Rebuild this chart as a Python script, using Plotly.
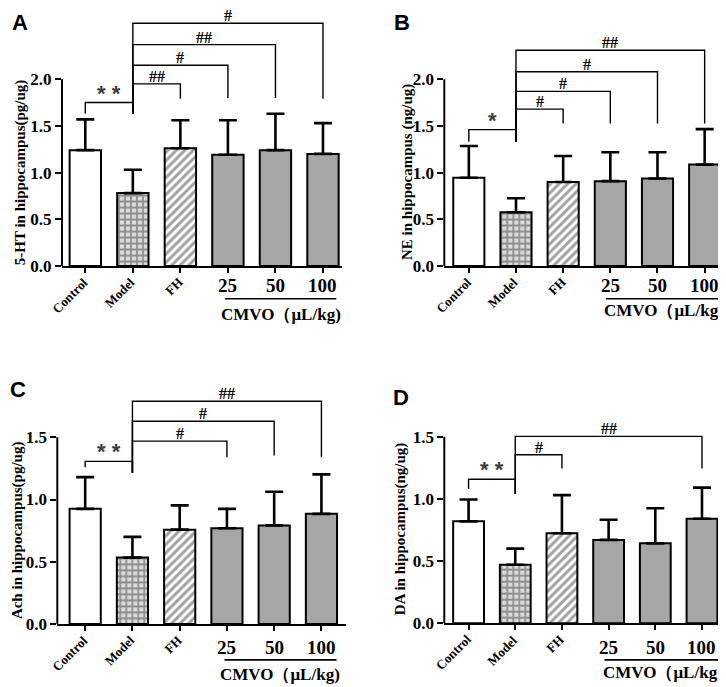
import plotly.graph_objects as go

# ---------------- data ----------------
categories = ["Control", "Model", "FH", "25", "50", "100"]
rot_labels = ["Control", "Model", "FH"]
dose_labels = ["25", "50", "100"]

ht5_mean = [1.24, 0.78, 1.26, 1.19, 1.24, 1.20]
ht5_sd = [0.33, 0.25, 0.30, 0.37, 0.39, 0.33]

ne_mean = [0.944, 0.574, 0.898, 0.908, 0.937, 1.085]
ne_sd = [0.34, 0.15, 0.28, 0.31, 0.28, 0.38]

ach_mean = [0.925, 0.533, 0.758, 0.769, 0.792, 0.885]
ach_sd = [0.255, 0.167, 0.195, 0.156, 0.27, 0.317]

da_mean = [0.819, 0.47, 0.723, 0.67, 0.642, 0.84]
da_sd = [0.176, 0.13, 0.307, 0.162, 0.282, 0.25]

# significance brackets: (from, to, top, low_from, low_to, label)
sig_a = [(0, 1, 1.75, 1.63, 1.63, "**"), (1, 2, 1.95, 1.63, 1.79, "##"),
         (1, 3, 2.15, 1.63, 1.80, "#"), (1, 4, 2.37, 1.63, 1.80, "##"),
         (1, 5, 2.60, 1.63, 1.79, "#")]
sig_b = [(0, 1, 1.46, 1.33, 1.33, "*"), (1, 2, 1.68, 1.33, 1.525, "#"),
         (1, 3, 1.87, 1.33, 1.525, "#"), (1, 4, 2.08, 1.33, 1.525, "#"),
         (1, 5, 2.31, 1.33, 1.525, "##")]
sig_c = [(0, 1, 1.307, 1.26, 1.215, "**"), (1, 3, 1.47, 1.215, 1.34, "#"),
         (1, 4, 1.63, 1.215, 1.355, "#"), (1, 5, 1.79, 1.215, 1.34, "##")]
sig_d = [(0, 1, 1.157, 1.08, 1.038, "**"), (1, 2, 1.355, 1.038, 1.244, "#"),
         (1, 5, 1.502, 1.038, 1.244, "##")]

W, H = 726, 687
SERIF = "Liberation Serif"
SANS = "Liberation Sans"


def py(p):
    return 1 - p / H


def px(p):
    return p / W


panels = [
    dict(mean=ht5_mean, sd=ht5_sd, sig=sig_a, ax="", xdom=[px(54), px(334)],
         ydom=[py(261.7), py(10.7)], xr=[-0.49, 5.40], yr=[0, 2.65],
         yticks=[0, 0.5, 1.0, 1.5, 2.0], title="5-HT in hippocampus(pg/ug)",
         title_x=12.7, title_y=1.0, letter="A", lx=2, ly=0, lanchor="top",
         num_off=20, cmvo_off=49, cmvo_x=4.12, line_px=295, line_x=[2.94, 5.28]),
    dict(mean=ne_mean, sd=ne_sd, sig=sig_b, ax="2", xdom=[px(436.3), px(716)],
         ydom=[py(261.7), py(10.7)], xr=[-0.52, 5.41], yr=[0, 2.65],
         yticks=[0, 0.5, 1.0, 1.5, 2.0], title="NE in hippocampus (ng/ug)",
         title_x=399.5, title_y=1.0, letter="B", lx=384, ly=0, lanchor="top",
         num_off=20, cmvo_off=45, cmvo_x=4.13, line_px=295, line_x=[2.91, 5.41]),
    dict(mean=ach_mean, sd=ach_sd, sig=sig_c, ax="3", xdom=[px(49.3), px(338)],
         ydom=[py(625), py(378.9)], xr=[-0.59, 5.52], yr=[0, 1.95],
         yticks=[0, 0.5, 1.0, 1.5], title="Ach in hippocampus(pg/ug)",
         title_x=9.5, title_y=0.75, letter="C", lx=0, ly=387, lanchor="middle",
         num_off=24, cmvo_off=51, cmvo_x=4.12, line_px=661.5, line_x=[2.95, 5.32]),
    dict(mean=da_mean, sd=da_sd, sig=sig_d, ax="4", xdom=[px(436.3), px(722)],
         ydom=[py(624.3), py(378.2)], xr=[-0.52, 5.6], yr=[0, 1.95],
         yticks=[0, 0.5, 1.0, 1.5], title="DA in hippocampus(ng/ug)",
         title_x=392.5, title_y=0.76, letter="D", lx=383, ly=395.5, lanchor="middle",
         num_off=24, cmvo_off=49, cmvo_x=4.17, line_px=661.5, line_x=[2.91, 5.43]),
]

fill_colors = ["white", "#dadada", "white", "#a6a6a6", "#a6a6a6", "#a6a6a6"]
pat_shapes = ["", "+", "/", "", "", ""]
pat_fg = ["black", "#a2a2a2", "#6e6e6e", "black", "black", "black"]
pat_bg = ["white", "#dadada", "white", "#a6a6a6", "#a6a6a6", "#a6a6a6"]

fig = go.Figure()
layout = dict(width=W, height=H, margin=dict(l=0, r=0, t=0, b=0),
              plot_bgcolor="white", paper_bgcolor="white", showlegend=False,
              bargap=0.34)
shapes = []
annotations = []

for p in panels:
    ax = p["ax"]
    xa, ya = "x" + ax, "y" + ax
    fig.add_trace(go.Bar(
        x=categories, y=p["mean"], xaxis=xa, yaxis=ya,
        marker=dict(color=fill_colors, line=dict(color="black", width=2),
                    pattern=dict(shape=pat_shapes, fgcolor=pat_fg, bgcolor=pat_bg,
                                 size=[6, 6, 6, 6, 6, 6],
                                 solidity=[0.5, 0.5, 0.5, 0.5, 0.5, 0.5])),
        error_y=dict(type="data", symmetric=False, array=p["sd"], arrayminus=[0] * 6,
                     color="black", thickness=2.6, width=9),
        hoverinfo="skip"))
    for (i, j, top, lo_i, lo_j, lab) in p["sig"]:
        fig.add_trace(go.Scatter(
            x=[categories[i], categories[i], categories[j], categories[j]],
            y=[lo_i, top, top, lo_j], xaxis=xa, yaxis=ya, mode="lines",
            line=dict(color="black", width=1.4), hoverinfo="skip"))
        is_star = "*" in lab
        annotations.append(dict(
            x=(i + j) / 2, y=top, xref=xa, yref=ya,
            text=(" ".join(lab) if is_star else lab), showarrow=False,
            yanchor="bottom", yshift=-5 if is_star else -3,
            font=dict(family=SANS if is_star else SERIF,
                      size=22 if is_star else 16,
                      color="#3c3c3c" if is_star else "black", weight="bold")))
    layout["xaxis" + ax] = dict(
        domain=p["xdom"], range=p["xr"], anchor=ya, type="category",
        showline=True, linewidth=2, linecolor="black", ticks="outside",
        ticklen=5, tickwidth=2, tickcolor="black", showticklabels=False,
        showgrid=False, zeroline=False, fixedrange=True)
    layout["yaxis" + ax] = dict(
        domain=p["ydom"], range=p["yr"], anchor=xa, showline=False,
        ticks="outside", ticklen=6, tickwidth=2, tickcolor="black",
        tickvals=p["yticks"], ticktext=["%.1f" % v for v in p["yticks"]],
        tickfont=dict(family=SERIF, size=17, color="black", weight="bold"),
        showgrid=False, zeroline=False, fixedrange=True)
    # y axis line only up to the last tick
    shapes.append(dict(type="line", xref=xa + " domain", yref=ya, x0=0, x1=0,
                       y0=0, y1=p["yticks"][-1], line=dict(color="black", width=2)))
    # dose underline
    shapes.append(dict(type="line", xref=xa, yref="paper", x0=p["line_x"][0],
                       x1=p["line_x"][1], y0=py(p["line_px"]), y1=py(p["line_px"]),
                       line=dict(color="black", width=1.6)))
    # rotated group labels
    for k, lab in enumerate(rot_labels):
        annotations.append(dict(
            x=k, y=0, xref=xa, yref=ya, text=lab, showarrow=False, textangle=-45,
            xanchor="right", yanchor="top", xshift=8, yshift=-6,
            font=dict(family=SERIF, size=13, color="black", weight="bold")))
    for k, lab in enumerate(dose_labels):
        annotations.append(dict(
            x=k + 3, y=0, xref=xa, yref=ya, text=lab, showarrow=False,
            yanchor="middle", yshift=-p["num_off"],
            font=dict(family=SERIF, size=19, color="black", weight="bold")))
    annotations.append(dict(
        x=p["cmvo_x"], y=0, xref=xa, yref=ya, text="CMVO\uff08\u03bcL/kg)", showarrow=False,
        yanchor="middle", yshift=-p["cmvo_off"],
        font=dict(family=SERIF, size=17, color="black", weight="bold")))
    annotations.append(dict(
        x=px(p["title_x"]), y=p["title_y"], xref="paper", yref=ya, text=p["title"],
        showarrow=False, textangle=-90, xanchor="center", yanchor="middle",
        font=dict(family=SERIF, size=15, color="black", weight="bold")))
    annotations.append(dict(
        x=px(p["lx"]), y=py(p["ly"]), xref="paper", yref="paper", text=p["letter"],
        showarrow=False, xanchor="left", yanchor=p["lanchor"],
        font=dict(family=SANS, size=22, color="black", weight="bold")))

layout["shapes"] = shapes
layout["annotations"] = annotations
fig.update_layout(**layout)
fig.write_html("out.html")
